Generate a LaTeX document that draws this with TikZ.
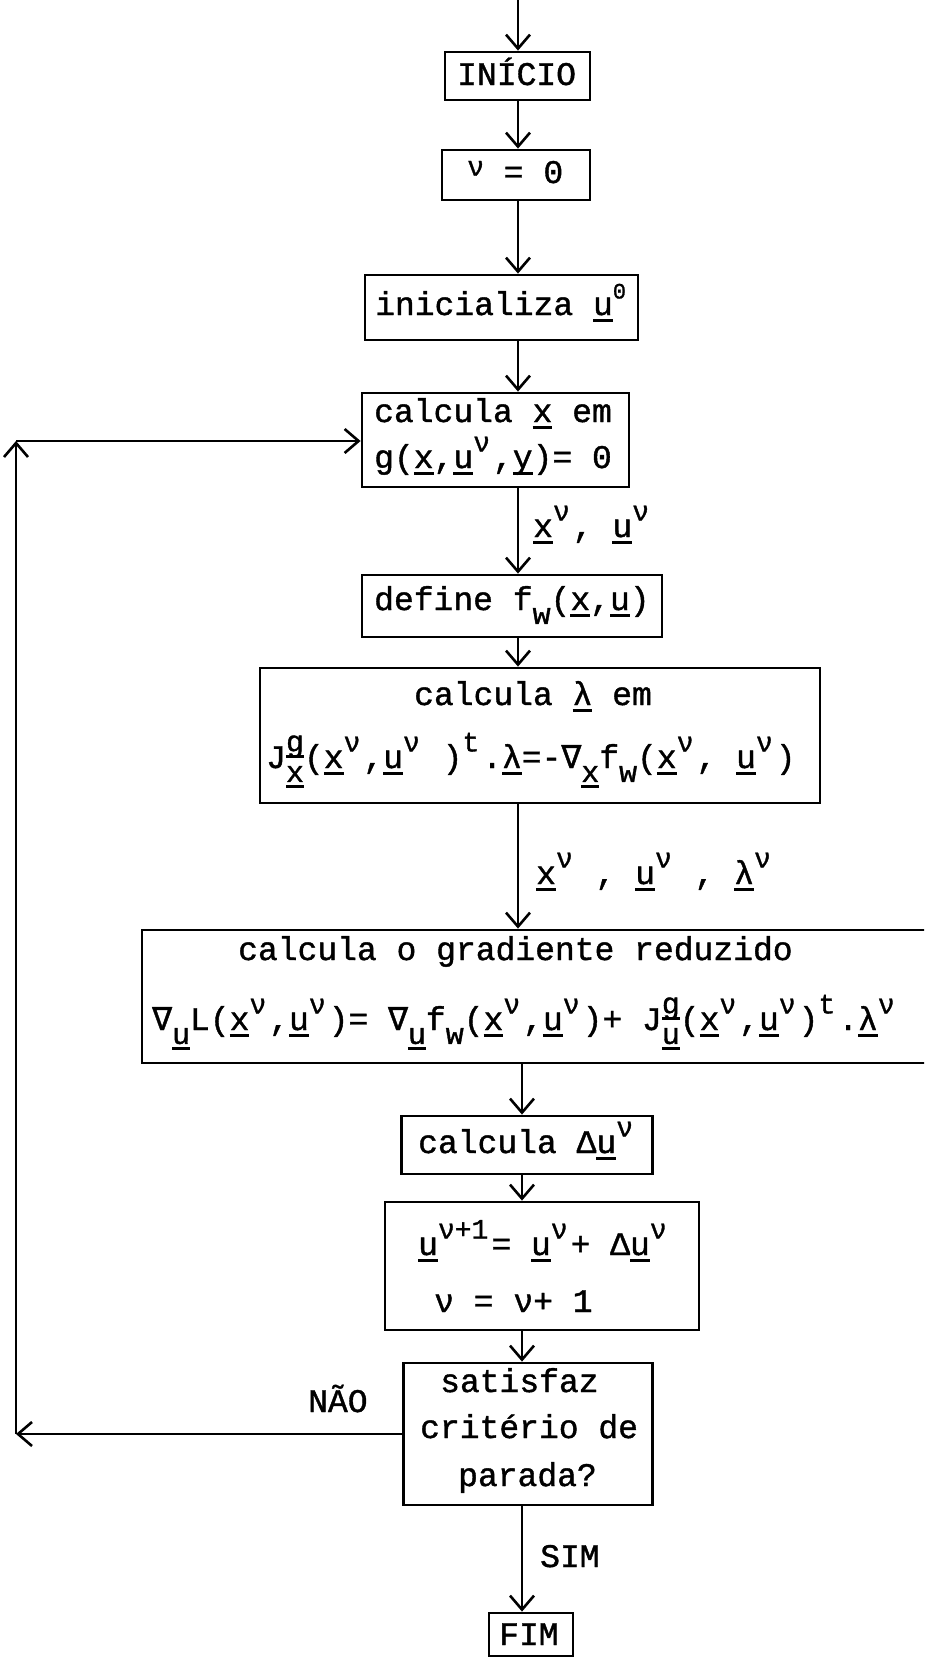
\documentclass[tikz,border=0pt]{standalone}
\usepackage{fontspec}
\setmainfont{Liberation Mono}[FakeBold=1.2]
\newfontfamily\dvm{DejaVu Sans Mono}[FakeBold=1.2]
\usetikzlibrary{arrows.meta}
\newcommand\uu[1]{\setbox0=\hbox{#1}\rlap{\raisebox{-0.2em}{\rule{\wd0}{0.08em}}}\box0\relax}
\newcommand\hi[1]{\raisebox{0.5em}{\fontsize{28}{28}\selectfont #1}\hspace{3pt}}
\newcommand\lo[1]{\raisebox{-0.42em}{\fontsize{30}{30}\selectfont #1}}
\newcommand\nab{{\dvm ∇}}
\newcommand\Jst[2]{J\rlap{\raisebox{0.5em}{\fontsize{30}{30}\selectfont\uu{#1}}}\lo{\uu{#2}}}
\begin{document}
\begin{tikzpicture}[x=1pt,y=-1pt,
  box/.style={draw, line width=2.8pt, inner sep=0pt, rectangle},
  txt/.style={inner sep=0pt, anchor=base west, font=\fontsize{33}{40}\selectfont},
  arr/.style={line width=2.6pt, -{Straight Barb[length=14pt,width=24pt]}}]
\path[use as bounding box] (0,0) rectangle (924,1657);
\clip (0,0) rectangle (924,1657);

% boxes
\node[box, minimum width=145pt, minimum height=48pt] (inicio) at (517.5,76) {};
\node[box, minimum width=148pt, minimum height=50pt] (nu0) at (516,175) {};
\node[box, minimum width=273pt, minimum height=65pt] (init) at (501.5,307.5) {};
\node[box, minimum width=267pt, minimum height=94pt] (calcx) at (495.5,440) {};
\node[box, minimum width=300pt, minimum height=62pt] (define) at (512,606) {};
\node[box, minimum width=560pt, minimum height=135pt] (lam) at (540,735.5) {};
\node[box, minimum width=798pt, minimum height=133pt] (grad) at (541,996.5) {};
\node[box, minimum width=251pt, minimum height=58pt] (du) at (527,1145) {};
\node[box, minimum width=314pt, minimum height=128pt] (upd) at (542,1266) {};
\node[box, minimum width=249pt, minimum height=142pt] (dec) at (528,1434) {};
\node[box, minimum width=84pt, minimum height=43pt] (fim) at (531,1634.5) {};

% texts
\node[txt] (tinicio) at (457,85) {INÍCIO};
\node[txt] (tnu0) at (467,183) {\raisebox{0.22em}{\fontsize{28}{28}\selectfont ν} = 0};
\node[txt] (tinit) at (375,315) {inicializa \uu{u}\raisebox{0.5em}{\fontsize{22}{22}\selectfont 0}};
\node[txt] (tcx1) at (374,422) {calcula \uu{x} em};
\node[txt] (tcx2) at (374,468) {g(\uu{x},\uu{u}\hi{ν},\uu{y})= 0};
\node[txt] (tlab1) at (533,537) {\uu{x}\hi{ν}, \uu{u}\hi{ν}};
\node[txt] (tdef) at (374,610) {define f\lo{w}(\uu{x},\uu{u})};
\node[txt] (tlam1) at (414,705) {calcula \uu{λ} em};
\node[txt] (tlam2) at (266,768) {\Jst{g}{x}(\uu{x}\hi{ν},\uu{u}\hi{ν} )\hi{t}.\uu{λ}=-\nab\lo{\uu{x}}f\lo{w}(\uu{x}\hi{ν}, \uu{u}\hi{ν})};
\node[txt] (tlab2) at (536,884) {\uu{x}\hi{ν} , \uu{u}\hi{ν} , \uu{λ}\hi{ν}};
\node[txt] (tg1) at (238,960) {calcula o gradiente reduzido};
\node[txt] (tg2) at (152,1030) {\nab\lo{\uu{u}}L(\uu{x}\hi{ν},\uu{u}\hi{ν})= \nab\lo{\uu{u}}f\lo{w}(\uu{x}\hi{ν},\uu{u}\hi{ν})+ \Jst{g}{u}(\uu{x}\hi{ν},\uu{u}\hi{ν})\hi{t}.\uu{λ}\hi{ν}};
\node[txt] (tdu) at (418,1153) {calcula Δ\uu{u}\hi{ν}};
\node[txt] (tup1) at (418,1255) {\uu{u}\hi{ν+1}= \uu{u}\hi{ν}+ Δ\uu{u}\hi{ν}};
\node[txt] (tup2) at (434,1312) {ν = ν+ 1};
\node[txt] (ts1) at (440,1392) {satisfaz};
\node[txt] (ts2) at (420,1438) {critério de};
\node[txt] (ts3) at (458,1486) {parada?};
\node[txt] (tnao) at (308,1412) {NÃO};
\node[txt] (tsim) at (540,1567) {SIM};
\node[txt] (tfim) at (499,1645) {FIM};

% connectors
\coordinate (colA) at (518,0);
\coordinate (colB) at (522,0);
\draw[arr] (colA) -- (colA |- inicio.north);
\draw[arr] (inicio.south -| colA) -- (nu0.north -| colA);
\draw[arr] (nu0.south -| colA) -- (init.north -| colA);
\draw[arr] (init.south -| colA) -- (calcx.north -| colA);
\draw[arr] (calcx.south -| colA) -- (define.north -| colA);
\draw[arr] (define.south -| colA) -- (lam.north -| colA);
\draw[arr] (lam.south -| colA) -- (grad.north -| colA);
\draw[arr] (grad.south -| colB) -- (du.north -| colB);
\draw[arr] (du.south -| colB) -- (upd.north -| colB);
\draw[arr] (upd.south -| colB) -- (dec.north -| colB);
\draw[arr] (dec.south -| colB) -- (fim.north -| colB);

% loop back
\coordinate (lb) at (16,1434);
\coordinate (lt) at (16,441);
\draw[arr] (lb -| dec.west) -- (lb);
\draw[arr] (lb) -- (lt);
\draw[arr] (lt) -- (lt -| calcx.west);
\end{tikzpicture}
\end{document}
